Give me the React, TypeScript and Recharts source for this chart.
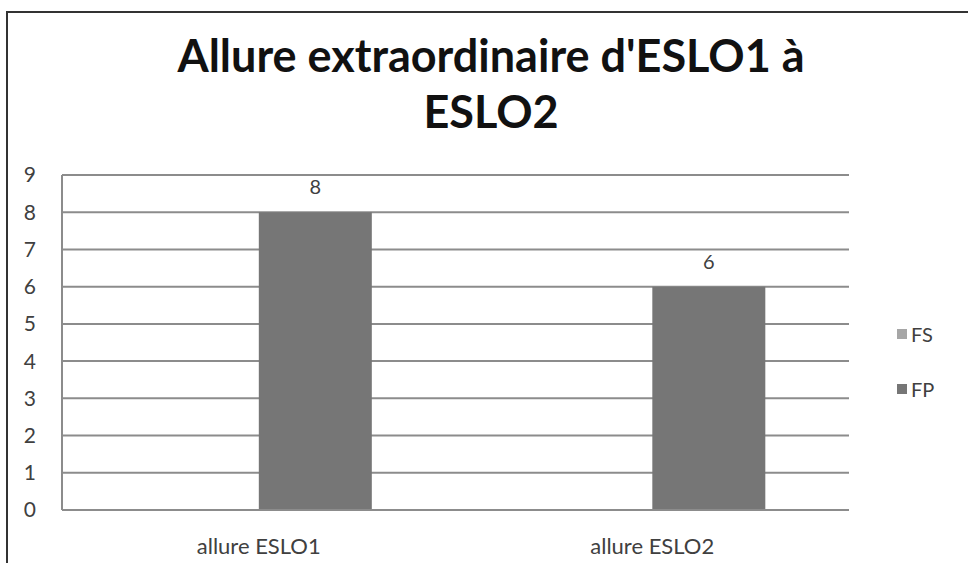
import React from 'react';
import { BarChart, Bar, XAxis, YAxis, CartesianGrid, Legend, LabelList } from 'recharts';

const categories = ['allure ESLO1', 'allure ESLO2'];
const fsValues = [0, 0];
const fpValues = [8, 6];
const yTicks = [0, 1, 2, 3, 4, 5, 6, 7, 8, 9];

const COLORS = { FS: '#a6a6a6', FP: '#767676' };
const FONT = 'Lato, "Open Sans", sans-serif';

const data = categories.map((name, i) => ({ name, FS: fsValues[i], FP: fpValues[i] }));

const LegendBox = () => (
  <div style={{ fontFamily: FONT, fontSize: 20, color: '#404040' }}>
    {(['FS', 'FP'] as const).map((key, i) => (
      <div key={key} style={{ display: 'flex', alignItems: 'center', height: 22, marginTop: i === 0 ? 0 : 33 }}>
        <span style={{ width: 10, height: 10, background: COLORS[key], marginRight: 4, display: 'inline-block' }} />
        <span>{key}</span>
      </div>
    ))}
  </div>
);

export default function App() {
  return (
    <div style={{ position: 'fixed', left: 0, top: 0, width: 968, height: 563, background: '#fff', overflow: 'hidden' }}>
      <div style={{ position: 'absolute', left: 6, top: 11, width: 980, height: 580, borderLeft: '2px solid #333', borderTop: '2px solid #333' }} />
      <div style={{ position: 'absolute', left: 0, top: 27, width: 982, textAlign: 'center', fontFamily: FONT, fontWeight: 700, fontSize: 45, lineHeight: '56px', color: '#111' }}>
        Allure extraordinaire d'ESLO1 à<br />ESLO2
      </div>
      <div style={{ position: 'absolute', left: 0, top: 0 }}>
        <BarChart width={968} height={563} data={data} margin={{ top: 175, right: 119, bottom: 23, left: 22 }}
          barGap={0} barCategoryGap="21.3%">
          <CartesianGrid vertical={false} stroke="#8c8c8c" strokeWidth={2} />
          <XAxis dataKey="name" stroke="#8c8c8c" strokeWidth={2} tickLine={false} tickSize={0} tickMargin={28}
            tick={{ fill: '#404040', fontSize: 22, fontFamily: FONT }} />
          <YAxis width={40} domain={[0, 9]} ticks={yTicks} interval={0} stroke="#8c8c8c" strokeWidth={2}
            tickLine={false} tickSize={0} tickMargin={26} tick={{ fill: '#404040', fontSize: 21, fontFamily: FONT }} />
          <Legend layout="vertical" align="center" verticalAlign="middle" content={<LegendBox />}
            wrapperStyle={{ left: 897, top: 323, width: 60, height: 90 }} />
          <Bar dataKey="FS" fill={COLORS.FS} isAnimationActive={false} />
          <Bar dataKey="FP" fill={COLORS.FP} isAnimationActive={false}>
            <LabelList dataKey="FP" position="top" offset={18} fill="#404040" fontSize={20} fontFamily={FONT} />
          </Bar>
        </BarChart>
      </div>
    </div>
  );
}
